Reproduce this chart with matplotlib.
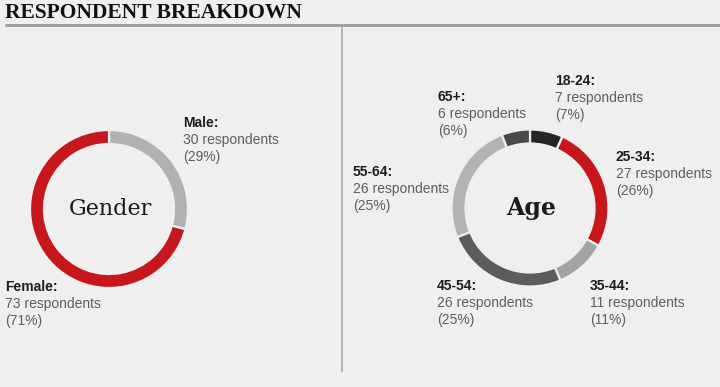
import matplotlib.pyplot as plt

# data
gender_labels = ["Male", "Female"]
gender_counts = [30, 73]
gender_pcts = [29, 71]

age_labels = ["18-24", "25-34", "35-44", "45-54", "55-64", "65+"]
age_counts = [7, 27, 11, 26, 26, 6]
age_pcts = [7, 26, 11, 25, 25, 6]

bg = "#efefef"
red = "#c8161d"
gender_colors = ["#b1b1b4", red]
age_colors = ["#262626", red, "#a3a3a5", "#5c5c5e", "#b3b3b5", "#4a4a4c"]

fig = plt.figure(figsize=(7.2, 3.87), dpi=100, facecolor=bg)
ax = fig.add_axes([0, 0, 1, 1])
ax.set_xlim(0, 720)
ax.set_ylim(0, 387)
ax.set_aspect("equal")
ax.axis("off")

H = 387


def donut(values, colors, cx, cy, r):
    ax.pie(values, colors=colors, center=(cx, H - cy), radius=r,
           startangle=90, counterclock=False,
           wedgeprops=dict(width=14, edgecolor=bg, linewidth=1.6))


donut(gender_counts, gender_colors, 109, 209, 79)
donut(age_counts, age_colors, 530, 208, 78.5)
ax.set_xlim(0, 720)
ax.set_ylim(0, 387)

# centre titles
ax.text(110, H - 209, "Gender", ha="center", va="center", fontsize=16,
        family="DejaVu Serif", color="#1a1a1a")
ax.text(531, H - 208, "Age", ha="center", va="center", fontsize=17,
        family="DejaVu Serif", fontweight="bold", color="#1a1a1a")

# header
ax.text(5, H - 12.5, "RESPONDENT BREAKDOWN", ha="left", va="center",
        fontsize=15.5, family="Liberation Serif", fontweight="bold", color="#111111")
ax.plot([5, 720], [H - 25, H - 25], color="#9a9a9a", lw=2, solid_capstyle="butt")
ax.plot([342, 342], [H - 28, H - 371], color="#a8a8a8", lw=1.2)


def label(x, y, name, n, p):
    ax.text(x, H - y, name + ":", ha="left", va="center", fontsize=10,
            family="Liberation Sans", fontweight="bold", color="#1e1e1e")
    ax.text(x, H - y - 17, f"{n} respondents", ha="left", va="center",
            fontsize=10, family="Liberation Sans", color="#5e5e5e")
    ax.text(x, H - y - 34, f"({p}%)", ha="left", va="center",
            fontsize=10, family="Liberation Sans", color="#5e5e5e")


gender_pos = [(183, 123), (5, 287)]
for (x, y), name, n, p in zip(gender_pos, gender_labels, gender_counts, gender_pcts):
    label(x, y, name, n, p)

age_pos = [(555, 81), (616, 157), (590, 286), (437, 286), (353, 172), (438, 97)]
for (x, y), name, n, p in zip(age_pos, age_labels, age_counts, age_pcts):
    label(x, y, name, n, p)

fig.savefig("out.png", dpi=100, facecolor=bg)
